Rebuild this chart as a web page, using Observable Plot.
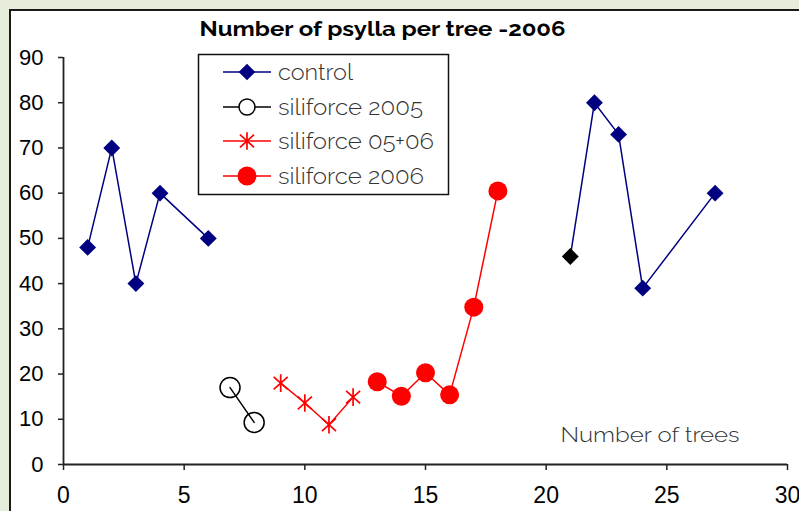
<!DOCTYPE html>
<html>
<head>
<meta charset="utf-8">
<script src="https://cdn.jsdelivr.net/npm/d3@7"></script>
<script src="https://cdn.jsdelivr.net/npm/@observablehq/plot@0.6"></script>
<style>
  html, body { margin: 0; padding: 0; background: #e7eddb; overflow: hidden; }
  #wrap { position: relative; width: 799px; height: 511px; }
  #panel { position: absolute; left: 9px; top: 9px; width: 820px; height: 560px; background: #fff; border: 2.5px solid #1a1a1a; box-sizing: border-box; }
  #chart { position: absolute; left: 0; top: 0; }
</style>
</head>
<body>
<div id="wrap"><div id="panel"></div><div id="chart"></div></div>
<script>
// ---- data ----
const title = "Number of psylla per tree -2006";
const xLabel = "Number of trees";
const xTicks = [0, 5, 10, 15, 20, 25, 30];
const yTicks = [0, 10, 20, 30, 40, 50, 60, 70, 80, 90];

const controlA_x = [1, 2, 3, 4, 6];
const controlA_y = [48, 70, 40, 60, 50];
const controlB_x = [21, 22, 23, 24, 27];
const controlB_y = [46, 80, 73, 39, 60];
const controlOddTree = 21; // drawn with a black marker

const sil2005_x = [6.9, 7.9];
const sil2005_y = [17, 9.3];
const sil0506_x = [9, 10, 11, 12];
const sil0506_y = [18, 13.6, 8.8, 14.9];
const sil2006_x = [13, 14, 15, 16, 17, 18];
const sil2006_y = [18.3, 15.1, 20.3, 15.4, 34.8, 60.5];

const seriesNames = ["control", "siliforce 2005", "siliforce 05+06", "siliforce 2006"];

// ---- build tables ----
const rows = (xs, ys, seg) => xs.map((x, i) => ({x, y: ys[i], seg}));
const control = [...rows(controlA_x, controlA_y, "a"), ...rows(controlB_x, controlB_y, "b")];
const s2005 = rows(sil2005_x, sil2005_y, "a");
const s0506 = rows(sil0506_x, sil0506_y, "a");
const s2006 = rows(sil2006_x, sil2006_y, "a");

const NAVY = "#000080", RED = "#ff0000";
const SANS_LIGHT = "Raleway, Lato, 'Open Sans', sans-serif";

const asterisk = {
  draw(ctx, size) {
    const r = Math.sqrt(size / Math.PI);
    const dx = r * 0.8, dy = r * 0.72;
    ctx.moveTo(0, -r); ctx.lineTo(0, r);
    ctx.moveTo(-dx, -dy); ctx.lineTo(dx, dy);
    ctx.moveTo(-dx, dy); ctx.lineTo(dx, -dy);
  }
};

const plot = Plot.plot({
  width: 799,
  height: 511,
  marginLeft: 63,
  marginRight: 12,
  marginTop: 57,
  marginBottom: 47,
  style: {background: "transparent", fontFamily: "'Liberation Sans', Arial, sans-serif", fontSize: "22px", color: "#000", overflow: "visible"},
  x: {domain: [0, 30]},
  y: {domain: [0, 90]},
  marks: [
    Plot.axisY({ticks: yTicks, tickSize: 5, tickPadding: 15, label: null, stroke: "#222", strokeWidth: 1.5, fontSize: 22}),
    Plot.axisX({ticks: xTicks, tickSize: 6, tickPadding: 16, label: null, stroke: "#222", strokeWidth: 1.5, fontSize: 23}),
    Plot.ruleX([0], {stroke: "#222", strokeWidth: 1.8}),
    Plot.ruleY([0], {stroke: "#222", strokeWidth: 1.8}),
    // control
    Plot.line(control, {x: "x", y: "y", z: "seg", stroke: NAVY, strokeWidth: 1.5}),
    Plot.dot(control.filter(d => d.x !== controlOddTree), {x: "x", y: "y", symbol: "diamond2", r: 7.6, fill: NAVY, stroke: "none"}),
    Plot.dot(control.filter(d => d.x === controlOddTree), {x: "x", y: "y", symbol: "diamond2", r: 7.6, fill: "#000", stroke: "none"}),
    // siliforce 2005
    Plot.line(s2005, {x: "x", y: "y", stroke: "#000", strokeWidth: 1.5}),
    Plot.dot(s2005, {x: "x", y: "y", r: 10, fill: "none", stroke: "#000", strokeWidth: 1.5}),
    // siliforce 05+06
    Plot.line(s0506, {x: "x", y: "y", stroke: RED, strokeWidth: 1.5}),
    Plot.dot(s0506, {x: "x", y: "y", symbol: asterisk, r: 8.8, fill: "none", stroke: RED, strokeWidth: 1.7}),
    // siliforce 2006
    Plot.line(s2006, {x: "x", y: "y", stroke: RED, strokeWidth: 1.5}),
    Plot.dot(s2006, {x: "x", y: "y", r: 9.5, fill: RED, stroke: "none"}),
    // labels
    Plot.text([xLabel], {frameAnchor: "bottom-right", dx: -48, dy: -23, text: d => d, textAnchor: "end",
      fontSize: 21, fontWeight: 300, fontFamily: SANS_LIGHT, fill: "#333", className: "xlab"}),
    Plot.text([title], {frameAnchor: "top", dx: -43, dy: -36, text: d => d, textAnchor: "middle",
      fontSize: 21, fontWeight: 700, fontFamily: SANS_LIGHT, fill: "#000", className: "ttl"})
  ]
});
document.getElementById("chart").appendChild(plot);

const svg = d3.select(plot);
svg.selectAll(".xlab text").attr("textLength", 179).attr("lengthAdjust", "spacingAndGlyphs");
svg.selectAll(".ttl text").attr("textLength", 366).attr("lengthAdjust", "spacingAndGlyphs");

// ---- legend ----
const lg = svg.append("g").attr("transform", "translate(198,54)");
lg.append("rect").attr("x", 0.5).attr("y", 0.5).attr("width", 250).attr("height", 140)
  .attr("fill", "#fff").attr("stroke", "#111").attr("stroke-width", 1.5);
const rowY = [18, 53, 87, 122];
const strokes = [NAVY, "#000", RED, RED];
const textWidths = [75, 145, 156, 146];
seriesNames.forEach((name, i) => {
  const g = lg.append("g").attr("transform", `translate(0,${rowY[i]})`);
  g.append("line").attr("x1", 25).attr("x2", 73).attr("y1", 0).attr("y2", 0)
    .attr("stroke", strokes[i]).attr("stroke-width", 1.5);
  const cx = 49;
  if (i === 0) {
    g.append("path").attr("d", `M${cx},-8.3L${cx + 8.3},0L${cx},8.3L${cx - 8.3},0Z`).attr("fill", NAVY);
  } else if (i === 1) {
    g.append("circle").attr("cx", cx).attr("cy", 0).attr("r", 8).attr("fill", "#fff").attr("stroke", "#000").attr("stroke-width", 1.5);
  } else if (i === 2) {
    const r = 8.8, dx = r * 0.8, dy = r * 0.72;
    g.append("path").attr("d", `M${cx},${-r}L${cx},${r}M${cx - dx},${-dy}L${cx + dx},${dy}M${cx - dx},${dy}L${cx + dx},${-dy}`)
      .attr("stroke", RED).attr("stroke-width", 1.7).attr("fill", "none");
  } else {
    g.append("circle").attr("cx", cx).attr("cy", 0).attr("r", 9.5).attr("fill", RED);
  }
  g.append("text").attr("x", 80).attr("y", 0).attr("dy", "0.35em").attr("text-anchor", "start")
    .attr("font-family", SANS_LIGHT).attr("font-weight", 300)
    .attr("font-size", 22).attr("fill", "#333")
    .attr("textLength", textWidths[i]).attr("lengthAdjust", "spacingAndGlyphs").text(name);
});
</script>
</body>
</html>
